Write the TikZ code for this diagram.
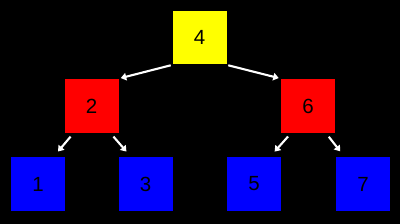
\documentclass[tikz,border=0pt]{standalone}
\usepackage{fontspec}
\setmainfont{Liberation Sans}
\usetikzlibrary{arrows.meta}
\begin{document}
\begin{tikzpicture}[x=1pt,y=-1pt,
  box/.style={draw=black,line width=0.6pt,minimum width=55pt,minimum height=54.5pt,inner sep=0pt,font=\fontsize{20.5}{20.5}\selectfont,text=black},
  link/.style={draw=white,line width=2.1pt,-{Triangle[length=5.5pt,width=7.5pt]}}]
\fill[black] (0,0) rectangle (400,224);
\useasboundingbox (0,0) rectangle (400,224);
\node[box,fill={rgb,255:red,255;green,255;blue,0}] (n4) at (199.5,37.5) {4};
\node[box,fill={rgb,255:red,255;green,0;blue,0}] (n2) at (91.5,106) {2};
\node[box,fill={rgb,255:red,255;green,0;blue,0}] (n6) at (308,106) {6};
\node[box,fill={rgb,255:red,0;green,0;blue,255}] (n1) at (38,184) {1};
\node[box,fill={rgb,255:red,0;green,0;blue,255}] (n3) at (145.5,184) {3};
\node[box,fill={rgb,255:red,0;green,0;blue,255}] (n5) at (254,184) {5};
\node[box,fill={rgb,255:red,0;green,0;blue,255}] (n7) at (363,184) {7};
\draw[link,shorten <=1pt,shorten >=1.5pt] (n4.south west) -- (n2.north east);
\draw[link,shorten <=1pt,shorten >=1.5pt] (n4.south east) -- (n6.north west);
\draw[link,shorten <=4pt,shorten >=6.5pt] ([xshift=9.5pt]n2.south west) -- ([xshift=-12pt]n1.north east);
\draw[link,shorten <=4pt,shorten >=6.5pt] ([xshift=-8.5pt]n2.south east) -- ([xshift=13pt]n3.north west);
\draw[link,shorten <=4pt,shorten >=6.5pt] ([xshift=10.5pt]n6.south west) -- ([xshift=-11.5pt]n5.north east);
\draw[link,shorten <=4pt,shorten >=6.5pt] ([xshift=-9.5pt]n6.south east) -- ([xshift=9pt]n7.north west);
\end{tikzpicture}
\end{document}
